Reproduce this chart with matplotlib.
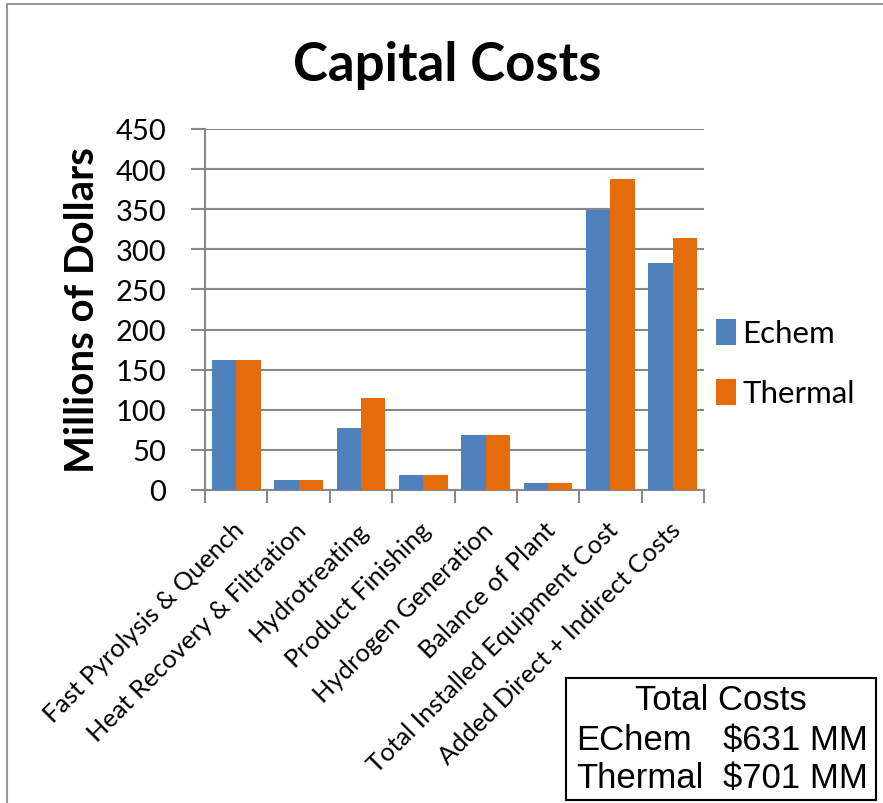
import matplotlib
matplotlib.use("Agg")
import matplotlib.pyplot as plt
import matplotlib.transforms as mtransforms
import numpy as np
from matplotlib.patches import Rectangle

# capital cost breakdown, millions of dollars
categories = [
    "Fast Pyrolysis & Quench",
    "Heat Recovery & Filtration",
    "Hydrotreating",
    "Product Finishing",
    "Hydrogen Generation",
    "Balance of Plant",
    "Total Installed Equipment Cost",
    "Added Direct + Indirect Costs",
]
echem = [162, 13, 77, 19, 68, 9, 349, 283]
thermal = [162, 13, 115, 19, 69, 9, 388, 314]
series_names = ["Echem", "Thermal"]
total_rows = [("EChem", "$631 MM"), ("Thermal", "$701 MM")]

BLUE = "#4F81BD"
ORANGE = "#E46C0A"
GRID = "#878787"

plt.rcParams["font.family"] = ["Lato", "DejaVu Sans"]

W, H = 883, 804
fig = plt.figure(figsize=(W / 100, H / 100), dpi=100)
ax = fig.add_axes([205 / W, 1 - 491 / H, (704 - 205) / W, (491 - 130) / H])

x = np.arange(len(categories))
bw = 0.39
ax.bar(x - bw / 2, echem, bw, color=BLUE, label=series_names[0], zorder=3)
ax.bar(x + bw / 2, thermal, bw, color=ORANGE, label=series_names[1], zorder=3)

ax.set_xlim(-0.5, len(categories) - 0.5)
ax.set_ylim(0, 450)
ax.set_yticks(np.arange(0, 451, 50))
ax.yaxis.grid(True, color=GRID, linewidth=1.5, zorder=0)
ax.tick_params(axis="y", labelsize=21, length=10, width=1.5, color=GRID, pad=18)

# category labels on major ticks, tick marks on the boundaries
ax.set_xticks(x)
ax.set_xticklabels(categories, rotation=45, ha="right", rotation_mode="anchor", fontsize=18.3)
ax.tick_params(axis="x", which="major", length=0, pad=8)
shift = mtransforms.ScaledTranslation(-3 / 72, -12 / 72, fig.dpi_scale_trans)
for lab in ax.get_xticklabels():
    lab.set_transform(lab.get_transform() + shift)
ax.set_xticks(np.arange(-0.5, len(categories), 1), minor=True)
ax.tick_params(axis="x", which="minor", length=9, width=1.5, color=GRID)

for s in ["top", "right"]:
    ax.spines[s].set_visible(False)
for s in ["left", "bottom"]:
    ax.spines[s].set_color(GRID)
    ax.spines[s].set_linewidth(1.5)

fig.text(0.507, 0.918, "Capital Costs", ha="center", va="center",
         fontsize=38, fontweight="bold")
fig.text(83 / W, 1 - 310 / H, "Millions of Dollars", ha="center", va="center",
         rotation=90, fontsize=29, fontweight="bold")

ax.legend(loc="center left", bbox_to_anchor=(703 / W, 1 - 364 / H),
          bbox_transform=fig.transFigure, frameon=False, fontsize=22.5,
          handlelength=0.65, handleheight=0.9, handletextpad=0.2,
          labelspacing=1.0, borderaxespad=0)

# outer chart border
fig.patches.append(Rectangle((7 / W, -0.05), 1.1, 1 - 5 / H + 0.05,
                             transform=fig.transFigure, fill=False,
                             edgecolor="#9a9a9a", linewidth=1.5))

# total costs box
fig.patches.append(Rectangle((566 / W, 1 - 801 / H), (876 - 566) / W, (801 - 679) / H,
                             transform=fig.transFigure, fill=False,
                             edgecolor="black", linewidth=1.5, zorder=5))
box_font = dict(family=["Liberation Sans", "DejaVu Sans"], fontsize=25, va="center")
fig.text(721 / W, 1 - 701 / H, "Total Costs", ha="center", **box_font)
for i, (name, val) in enumerate(total_rows):
    yy = 1 - (741 + i * 38) / H
    fig.text(576 / W, yy, name, ha="left", **box_font)
    fig.text(868 / W, yy, val, ha="right", **box_font)

fig.savefig("out.png", dpi=100)
